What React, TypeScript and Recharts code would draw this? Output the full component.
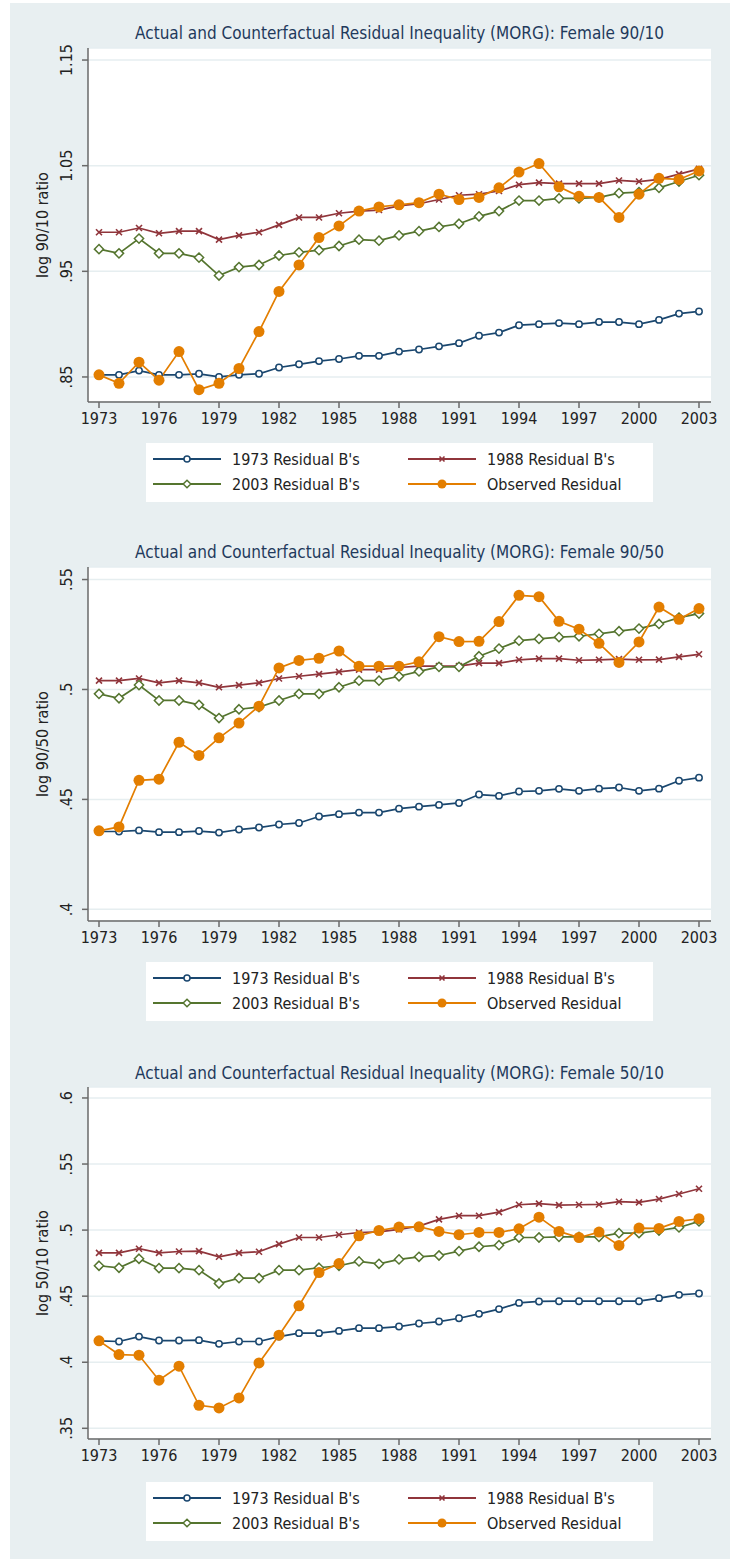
import React from 'react';
import { LineChart, Line, XAxis, YAxis, CartesianGrid } from 'recharts';

const years = [1973, 1974, 1975, 1976, 1977, 1978, 1979, 1980, 1981, 1982, 1983, 1984, 1985, 1986, 1987, 1988,
  1989, 1990, 1991, 1992, 1993, 1994, 1995, 1996, 1997, 1998, 1999, 2000, 2001, 2002, 2003];
const xTicks = [1973, 1976, 1979, 1982, 1985, 1988, 1991, 1994, 1997, 2000, 2003];

// Female 90/10
const p1B1973 = [.852, .852, .856, .852, .852, .853, .850, .852, .853, .859, .862, .865, .867, .870, .870, .874,
  .876, .879, .882, .889, .892, .899, .900, .901, .900, .902, .902, .900, .904, .910, .912];
const p1B1988 = [.987, .987, .991, .986, .988, .988, .980, .984, .987, .994, 1.001, 1.001, 1.005, 1.007, 1.008, 1.012,
  1.014, 1.018, 1.022, 1.023, 1.026, 1.032, 1.034, 1.033, 1.033, 1.033, 1.036, 1.035, 1.037, 1.042, 1.047];
const p1B2003 = [.971, .967, .981, .967, .967, .963, .946, .954, .956, .965, .968, .970, .974, .980, .979, .984,
  .988, .992, .995, 1.002, 1.007, 1.017, 1.017, 1.019, 1.019, 1.020, 1.024, 1.025, 1.029, 1.035, 1.041];
const p1Obs = [.852, .844, .864, .847, .874, .838, .844, .858, .893, .931, .956, .982, .993, 1.007, 1.011, 1.013,
  1.015, 1.023, 1.018, 1.020, 1.029, 1.044, 1.052, 1.030, 1.021, 1.020, 1.001, 1.023, 1.038, 1.037, 1.045];
const p1Ticks = [0.85, 0.95, 1.05, 1.15];
const p1TickLabels = ['.85', '.95', '1.05', '1.15'];

// Female 90/50
const p2B1973 = [.4354, .4354, .4359, .4351, .4351, .4356, .4349, .4363, .4372, .4386, .4393, .4422, .4433, .444, .444, .4458,
  .4467, .4475, .4484, .4522, .4516, .4536, .4539, .4548, .4539, .4549, .4554, .4539, .4549, .4585, .4599];
const p2B1988 = [.504, .504, .505, .503, .504, .503, .501, .502, .503, .505, .506, .507, .508, .509, .509, .510,
  .5106, .5106, .5106, .512, .512, .5135, .514, .514, .5133, .5135, .5138, .5135, .5136, .5148, .516];
const p2B2003 = [.498, .496, .502, .495, .495, .493, .487, .491, .492, .495, .498, .498, .501, .504, .504, .506,
  .5082, .5103, .5103, .5151, .5186, .5222, .523, .5238, .5242, .5253, .5265, .5277, .5298, .5327, .5345];
const p2Obs = [.4357, .4375, .4587, .4592, .476, .470, .478, .4847, .4924, .5098, .5132, .5142, .5175, .5106, .5106, .5106,
  .5126, .524, .5218, .5219, .5309, .5428, .5422, .531, .5274, .521, .5123, .5216, .5375, .5319, .5368];
const p2Ticks = [0.4, 0.45, 0.5, 0.55];
const p2TickLabels = ['.4', '.45', '.5', '.55'];

// Female 50/10
const p3B1973 = [.4162, .4157, .4194, .4164, .4164, .4167, .4139, .4157, .4157, .4194, .422, .422, .4237, .4258, .4258, .427,
  .4293, .4308, .4333, .4366, .4402, .4449, .446, .4462, .4462, .4462, .4462, .4462, .4485, .451, .452];
const p3B1988 = [.4828, .4828, .4859, .4828, .4838, .4841, .4798, .4828, .4836, .4894, .4944, .4944, .4965, .4982, .4987, .5005,
  .503, .5081, .5109, .5109, .5136, .5192, .52, .5189, .5192, .5194, .5215, .521, .5235, .5273, .5313];
const p3B2003 = [.473, .4715, .4783, .4712, .4712, .4697, .4596, .4636, .4636, .4697, .4697, .4715, .473, .4763, .4745, .4778,
  .4798, .4808, .4841, .4874, .4886, .4944, .4944, .4949, .4949, .4949, .4977, .4977, .4997, .502, .5066];
const p3Obs = [.4162, .4058, .4053, .3864, .397, .3674, .3654, .373, .3995, .4205, .4427, .4679, .4747, .4957, .4997, .5023,
  .5025, .499, .4965, .4982, .4982, .501, .5098, .499, .4944, .4985, .4884, .5015, .5013, .5066, .5086];
const p3Ticks = [0.35, 0.4, 0.45, 0.5, 0.55, 0.6];
const p3TickLabels = ['.35', '.4', '.45', '.5', '.55', '.6'];

const seriesNames = ["1973 Residual B's", "1988 Residual B's", "2003 Residual B's", 'Observed Residual'];

const FONT = "'Liberation Sans Narrow', 'DejaVu Sans Condensed', 'Arial Narrow', sans-serif";
const NAVY = '#1a476f';
const MAROON = '#90353b';
const GREEN = '#55752f';
const ORANGE = '#e37e00';
const BG = '#e8eff1';
const GRID = '#e6eef0';
const AXIS = '#6a6a6a';

const hollowCircle = (p: any) => (
  <circle key={`c${p.index}`} cx={p.cx} cy={p.cy} r={3.2} fill="#fff" stroke={NAVY} strokeWidth={1.5} />
);
const cross = (p: any) => (
  <g key={`x${p.index}`} stroke={MAROON} strokeWidth={1.6}>
    <line x1={p.cx - 3} y1={p.cy - 3} x2={p.cx + 3} y2={p.cy + 3} />
    <line x1={p.cx - 3} y1={p.cy + 3} x2={p.cx + 3} y2={p.cy - 3} />
  </g>
);
const diamond = (p: any) => (
  <polygon key={`d${p.index}`}
    points={`${p.cx},${p.cy - 4.6} ${p.cx + 4.6},${p.cy} ${p.cx},${p.cy + 4.6} ${p.cx - 4.6},${p.cy}`}
    fill="#fff" stroke={GREEN} strokeWidth={1.5} />
);
const solidCircle = (p: any) => (
  <circle key={`o${p.index}`} cx={p.cx} cy={p.cy} r={5.5} fill={ORANGE} stroke="none" />
);

const LegendBox: React.FC<{ top: number }> = ({ top }) => {
  const items = [
    { name: seriesNames[0], color: NAVY, kind: 'circle', x: 7, y: 16 },
    { name: seriesNames[1], color: MAROON, kind: 'cross', x: 262, y: 16 },
    { name: seriesNames[2], color: GREEN, kind: 'diamond', x: 7, y: 41 },
    { name: seriesNames[3], color: ORANGE, kind: 'solid', x: 262, y: 41 },
  ];
  return (
    <div style={{ position: 'absolute', left: 146, top, width: 507, height: 59, background: '#fff' }}>
      <svg width={507} height={59} style={{ position: 'absolute', left: 0, top: 0 }}>
        {items.map((it) => {
          const mx = it.x + 34;
          return (
            <g key={it.name}>
              <line x1={it.x} x2={it.x + 68} y1={it.y} y2={it.y} stroke={it.color} strokeWidth={1.8} />
              {it.kind === 'circle' && <circle cx={mx} cy={it.y} r={3} fill="#fff" stroke={it.color} strokeWidth={1.5} />}
              {it.kind === 'cross' && (
                <g stroke={it.color} strokeWidth={1.6}>
                  <line x1={mx - 2.5} y1={it.y - 2.5} x2={mx + 2.5} y2={it.y + 2.5} />
                  <line x1={mx - 2.5} y1={it.y + 2.5} x2={mx + 2.5} y2={it.y - 2.5} />
                </g>
              )}
              {it.kind === 'diamond' && (
                <polygon points={`${mx},${it.y - 3.8} ${mx + 3.8},${it.y} ${mx},${it.y + 3.8} ${mx - 3.8},${it.y}`}
                  fill="#fff" stroke={it.color} strokeWidth={1.5} />
              )}
              {it.kind === 'solid' && <circle cx={mx} cy={it.y} r={4.5} fill={it.color} />}
              <text x={it.x + 79} y={it.y} dominantBaseline="central" fontFamily={FONT} fontSize={16} fill="#222">
                {it.name}
              </text>
            </g>
          );
        })}
      </svg>
    </div>
  );
};

type PanelProps = {
  title: string;
  yLabel: string;
  b1973: number[];
  b1988: number[];
  b2003: number[];
  obs: number[];
  ticks: number[];
  tickLabels: string[];
  domain: [number, number];
  plotTop: number;
  plotBottom: number;
  titleY: number;
  legendTop: number;
};

const Panel: React.FC<PanelProps> = (p) => {
  const data = years.map((year, i) => ({
    year,
    b1973: p.b1973[i],
    b1988: p.b1988[i],
    b2003: p.b2003[i],
    obs: p.obs[i],
  }));
  const chartTop = p.plotTop - 40;
  const plotH = p.plotBottom - p.plotTop;
  const height = plotH + 40 + 40;
  const labelFor = (v: number) => {
    const idx = p.ticks.findIndex((t) => Math.abs(t - v) < 1e-6);
    return idx >= 0 ? p.tickLabels[idx] : String(v);
  };
  return (
    <>
      <div style={{
        position: 'absolute', left: 88, width: 623, top: p.titleY - 11, height: 22, lineHeight: '22px',
        textAlign: 'center', fontFamily: FONT, fontSize: 17, color: '#1f3a5c', whiteSpace: 'nowrap',
      }}>
        {p.title}
      </div>
      <div style={{ position: 'absolute', left: 0, top: chartTop }}>
        <LineChart width={739} height={height} data={data} margin={{ top: 40, right: 28, bottom: 10, left: 0 }}>
          <CartesianGrid vertical={false} stroke={GRID} strokeWidth={1.5} fill="#fff" fillOpacity={1} />
          <XAxis
            type="number"
            dataKey="year"
            domain={[1972.45, 2003.6]}
            ticks={xTicks}
            interval={0}
            height={30}
            tickSize={6}
            tickMargin={5}
            stroke={AXIS}
            strokeWidth={1.5}
            tick={{ fill: '#222', fontSize: 16, fontFamily: FONT }}
          />
          <YAxis
            type="number"
            domain={p.domain}
            ticks={p.ticks}
            interval={0}
            width={88}
            allowDataOverflow
            tickSize={6}
            stroke={AXIS}
            strokeWidth={1.5}
            tick={(t: any) => (
              <text
                key={`t${t.payload.value}`}
                x={67}
                y={t.y}
                transform={`rotate(-90, 67, ${t.y})`}
                textAnchor="middle"
                dominantBaseline="central"
                fontFamily={FONT}
                fontSize={16}
                fill="#222"
              >
                {labelFor(t.payload.value)}
              </text>
            )}
            label={{
              content: (lp: any) => {
                const vb = lp.viewBox || { y: 40, height: plotH };
                const cy = vb.y + vb.height / 2;
                return (
                  <text x={42} y={cy} transform={`rotate(-90, 42, ${cy})`} textAnchor="middle"
                    dominantBaseline="central" fontFamily={FONT} fontSize={16} fill="#222">
                    {p.yLabel}
                  </text>
                );
              },
            }}
          />
          <Line type="linear" dataKey="b1973" stroke={NAVY} strokeWidth={1.7} dot={hollowCircle} isAnimationActive={false} />
          <Line type="linear" dataKey="b1988" stroke={MAROON} strokeWidth={1.7} dot={cross} isAnimationActive={false} />
          <Line type="linear" dataKey="b2003" stroke={GREEN} strokeWidth={1.7} dot={diamond} isAnimationActive={false} />
          <Line type="linear" dataKey="obs" stroke={ORANGE} strokeWidth={1.7} dot={solidCircle} isAnimationActive={false} />
        </LineChart>
      </div>
      <LegendBox top={p.legendTop} />
    </>
  );
};

export default function App() {
  return (
    <div style={{ position: 'absolute', left: 0, top: 0, width: 739, height: 1560, background: '#fff' }}>
      <div style={{ position: 'absolute', left: 10, top: 3, width: 720, height: 1556, background: BG }} />
      <Panel
        title="Actual and Counterfactual Residual Inequality (MORG): Female 90/10"
        yLabel="log 90/10 ratio"
        b1973={p1B1973} b1988={p1B1988} b2003={p1B2003} obs={p1Obs}
        ticks={p1Ticks} tickLabels={p1TickLabels}
        domain={[0.8263, 1.1614]}
        plotTop={48} plotBottom={402} titleY={33} legendTop={443}
      />
      <Panel
        title="Actual and Counterfactual Residual Inequality (MORG): Female 90/50"
        yLabel="log 90/50 ratio"
        b1973={p2B1973} b1988={p2B1988} b2003={p2B2003} obs={p2Obs}
        ticks={p2Ticks} tickLabels={p2TickLabels}
        domain={[0.3947, 0.5557]}
        plotTop={567} plotBottom={921} titleY={552} legendTop={962}
      />
      <Panel
        title="Actual and Counterfactual Residual Inequality (MORG): Female 50/10"
        yLabel="log 50/10 ratio"
        b1973={p3B1973} b1988={p3B1988} b2003={p3B2003} obs={p3Obs}
        ticks={p3Ticks} tickLabels={p3TickLabels}
        domain={[0.3419, 0.6083]}
        plotTop={1087} plotBottom={1439} titleY={1073} legendTop={1482}
      />
    </div>
  );
}
